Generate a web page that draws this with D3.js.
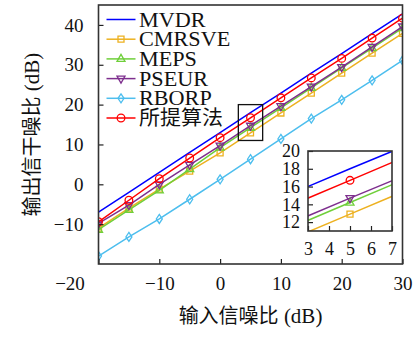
<!DOCTYPE html>
<html>
<head>
<meta charset="utf-8">
<script src="https://cdn.jsdelivr.net/npm/d3@7"></script>
<style>
  body { margin: 0; background: #fff; }
  svg { display: block; }
</style>
</head>
<body>
<div id="plot"></div>
<script>
// input SNR (dB), sampled every 5 dB
const snr = [-20, -15, -10, -5, 0, 5, 10, 15, 20, 25, 30];

// output SINR (dB) for each method
const mvdr     = [-7, -2, 3, 8, 13, 18, 22.9, 27.9, 32.8, 37.8, 42.8];
const cmrsve   = [-11, -6, -1.2, 3.3, 7.9, 12.9, 17.9, 22.9, 27.9, 32.9, 37.9];
const meps     = [-11.4, -6.4, -1.5, 3.8, 9.2, 14.2, 19.2, 24.2, 29.2, 34.2, 39.2];
const pseur    = [-9.8, -5.2, 0, 4.9, 9.7, 14.7, 19.6, 24.5, 29.4, 34.5, 39.6];
const rborp    = [-18, -13.2, -8.7, -3.75, 1.25, 6.3, 11.4, 16.5, 21.2, 26.1, 31.1];
const proposed = [-9.4, -4, 1.4, 6.6, 11.7, 16.7, 21.7, 26.7, 31.6, 36.7, 41.7];

const names = ["MVDR", "CMRSVE", "MEPS", "PSEUR", "RBORP", "所提算法"];

const xTicks = [-20, -10, 0, 10, 20, 30];
const yTicks = [-10, 0, 10, 20, 30, 40];
const insetXTicks = [3, 4, 5, 6, 7];
const insetYTicks = [12, 14, 16, 18, 20];

const series = [
  {name: names[0], values: mvdr,     color: "#0000ff", marker: null},
  {name: names[1], values: cmrsve,   color: "#edb120", marker: "square"},
  {name: names[2], values: meps,     color: "#6fcf3a", marker: "triangle"},
  {name: names[3], values: pseur,    color: "#7e2f8e", marker: "triangleDown"},
  {name: names[4], values: rborp,    color: "#4dbeee", marker: "diamond"},
  {name: names[5], values: proposed, color: "#ff0000", marker: "circle"}
];

const width = 416, height = 337;
const serif = "'Liberation Serif', 'DejaVu Serif', serif";
const cjk = "'Noto Sans CJK SC', sans-serif";
const isCjk = s => /[\u4e00-\u9fff]/.test(s);
const minus = d => d < 0 ? "\u2212" + Math.abs(d) : String(d);

const svg = d3.select("#plot").append("svg")
  .attr("width", width)
  .attr("height", height);

const x = d3.scaleLinear([-20, 30], [98.5, 402.5]);
const y = d3.scaleLinear([-20, 45], [264, 5]);

// inset scales
const xi = d3.scaleLinear([3, 7], [308, 392]);
const yi = d3.scaleLinear([11, 20], [231, 151]);

const defs = svg.append("defs");
defs.append("clipPath").attr("id", "clipMain").append("rect")
  .attr("x", x(-20)).attr("y", y(45))
  .attr("width", x(30) - x(-20)).attr("height", y(-20) - y(45));
defs.append("clipPath").attr("id", "clipInset").append("rect")
  .attr("x", xi(3)).attr("y", yi(20))
  .attr("width", xi(7) - xi(3)).attr("height", yi(11) - yi(20));

function markerPath(type) {
  if (type === "circle") return d3.symbol(d3.symbolCircle, 46)();
  if (type === "square") return "M-3,-3H3V3H-3Z";
  if (type === "triangle") return "M0,-4.5L4,2.5L-4,2.5Z";
  if (type === "triangleDown") return "M0,4.5L4,-2.5L-4,-2.5Z";
  if (type === "diamond") return "M0,-4.5L3,0L0,4.5L-3,0Z";
  return null;
}

function drawSeries(g, sx, sy) {
  series.forEach(s => {
    const pts = snr.map((v, i) => [v, s.values[i]]);
    g.append("path")
      .attr("fill", "none")
      .attr("stroke", s.color)
      .attr("stroke-width", 1.5)
      .attr("d", d3.line().x(d => sx(d[0])).y(d => sy(d[1]))(pts));
    if (s.marker) {
      g.selectAll(null).data(pts).join("path")
        .attr("transform", d => `translate(${sx(d[0])},${sy(d[1])})`)
        .attr("d", markerPath(s.marker))
        .attr("fill", "none")
        .attr("stroke", s.color)
        .attr("stroke-width", 1.3);
    }
  });
}

function styleAxis(g, size) {
  g.select(".domain").remove();
  g.selectAll(".tick line").attr("stroke", "#222").attr("stroke-width", 1.2);
  g.selectAll(".tick text").attr("font-family", serif).attr("font-size", size).attr("fill", "#111");
}

// main lines
drawSeries(svg.append("g").attr("clip-path", "url(#clipMain)"), x, y);

// axes (inward ticks)
svg.append("g")
  .attr("transform", `translate(0,${y(-20)})`)
  .call(d3.axisBottom(x).tickValues(xTicks).tickSize(-5).tickPadding(12.5).tickFormat(minus))
  .call(g => styleAxis(g, 19))
  .call(g => g.selectAll(".tick").filter(d => d === -20).select("text").attr("dx", -29));

svg.append("g")
  .attr("transform", `translate(${x(-20)},0)`)
  .call(d3.axisLeft(y).tickValues(yTicks).tickSize(-5).tickPadding(15).tickFormat(minus))
  .call(g => styleAxis(g, 19));

// frame
svg.append("rect")
  .attr("x", x(-20)).attr("y", y(45))
  .attr("width", x(30) - x(-20)).attr("height", y(-20) - y(45))
  .attr("fill", "none").attr("stroke", "#333").attr("stroke-width", 1.6);

// zoom rectangle
svg.append("rect")
  .attr("x", x(3)).attr("y", y(20))
  .attr("width", x(7) - x(3)).attr("height", y(11) - y(20))
  .attr("fill", "none").attr("stroke", "#111").attr("stroke-width", 1.3);

// inset
svg.append("rect")
  .attr("x", xi(3)).attr("y", yi(20))
  .attr("width", xi(7) - xi(3)).attr("height", yi(11) - yi(20))
  .attr("fill", "#fff");
drawSeries(svg.append("g").attr("clip-path", "url(#clipInset)"), xi, yi);

svg.append("g")
  .attr("transform", `translate(0,${yi(11)})`)
  .call(d3.axisBottom(xi).tickValues(insetXTicks).tickSize(-5).tickPadding(11).tickFormat(d3.format("d")))
  .call(g => styleAxis(g, 18));

svg.append("g")
  .attr("transform", `translate(${xi(3)},0)`)
  .call(d3.axisLeft(yi).tickValues(insetYTicks).tickSize(-5).tickPadding(8).tickFormat(d3.format("d")))
  .call(g => styleAxis(g, 18));

svg.append("rect")
  .attr("x", xi(3)).attr("y", yi(20))
  .attr("width", xi(7) - xi(3)).attr("height", yi(11) - yi(20))
  .attr("fill", "none").attr("stroke", "#333").attr("stroke-width", 1.6);

// legend
const legend = svg.append("g");
series.forEach((s, i) => {
  const ly = 19.5 + i * 19.7;
  legend.append("line")
    .attr("x1", 106.5).attr("x2", 135.5).attr("y1", ly).attr("y2", ly)
    .attr("stroke", s.color).attr("stroke-width", 1.5);
  if (s.marker) {
    legend.append("path")
      .attr("transform", `translate(121,${ly})`)
      .attr("d", markerPath(s.marker))
      .attr("fill", "none").attr("stroke", s.color).attr("stroke-width", 1.3);
  }
  legend.append("text")
    .attr("transform", `translate(139,${ly}) scale(${isCjk(s.name) ? 1.05 : 1.11},1)`)
    .attr("dy", "0.35em")
    .attr("font-family", isCjk(s.name) ? cjk : serif)
    .attr("font-size", 20)
    .attr("fill", "#111")
    .text(s.name);
});

// axis titles
const xt = svg.append("text")
  .attr("x", (x(-20) + x(30)) / 2).attr("y", 323)
  .attr("text-anchor", "middle").attr("fill", "#111");
xt.append("tspan").attr("font-family", cjk).attr("font-size", 20).text("输入信噪比");
xt.append("tspan").attr("font-family", serif).attr("font-size", 21).text(" (dB)");

const yt = svg.append("text")
  .attr("transform", `translate(39,${(y(-20) + y(45)) / 2}) rotate(-90)`)
  .attr("text-anchor", "middle").attr("fill", "#111");
yt.append("tspan").attr("font-family", cjk).attr("font-size", 20).text("输出信干噪比");
yt.append("tspan").attr("font-family", serif).attr("font-size", 21).text(" (dB)");
</script>
</body>
</html>
